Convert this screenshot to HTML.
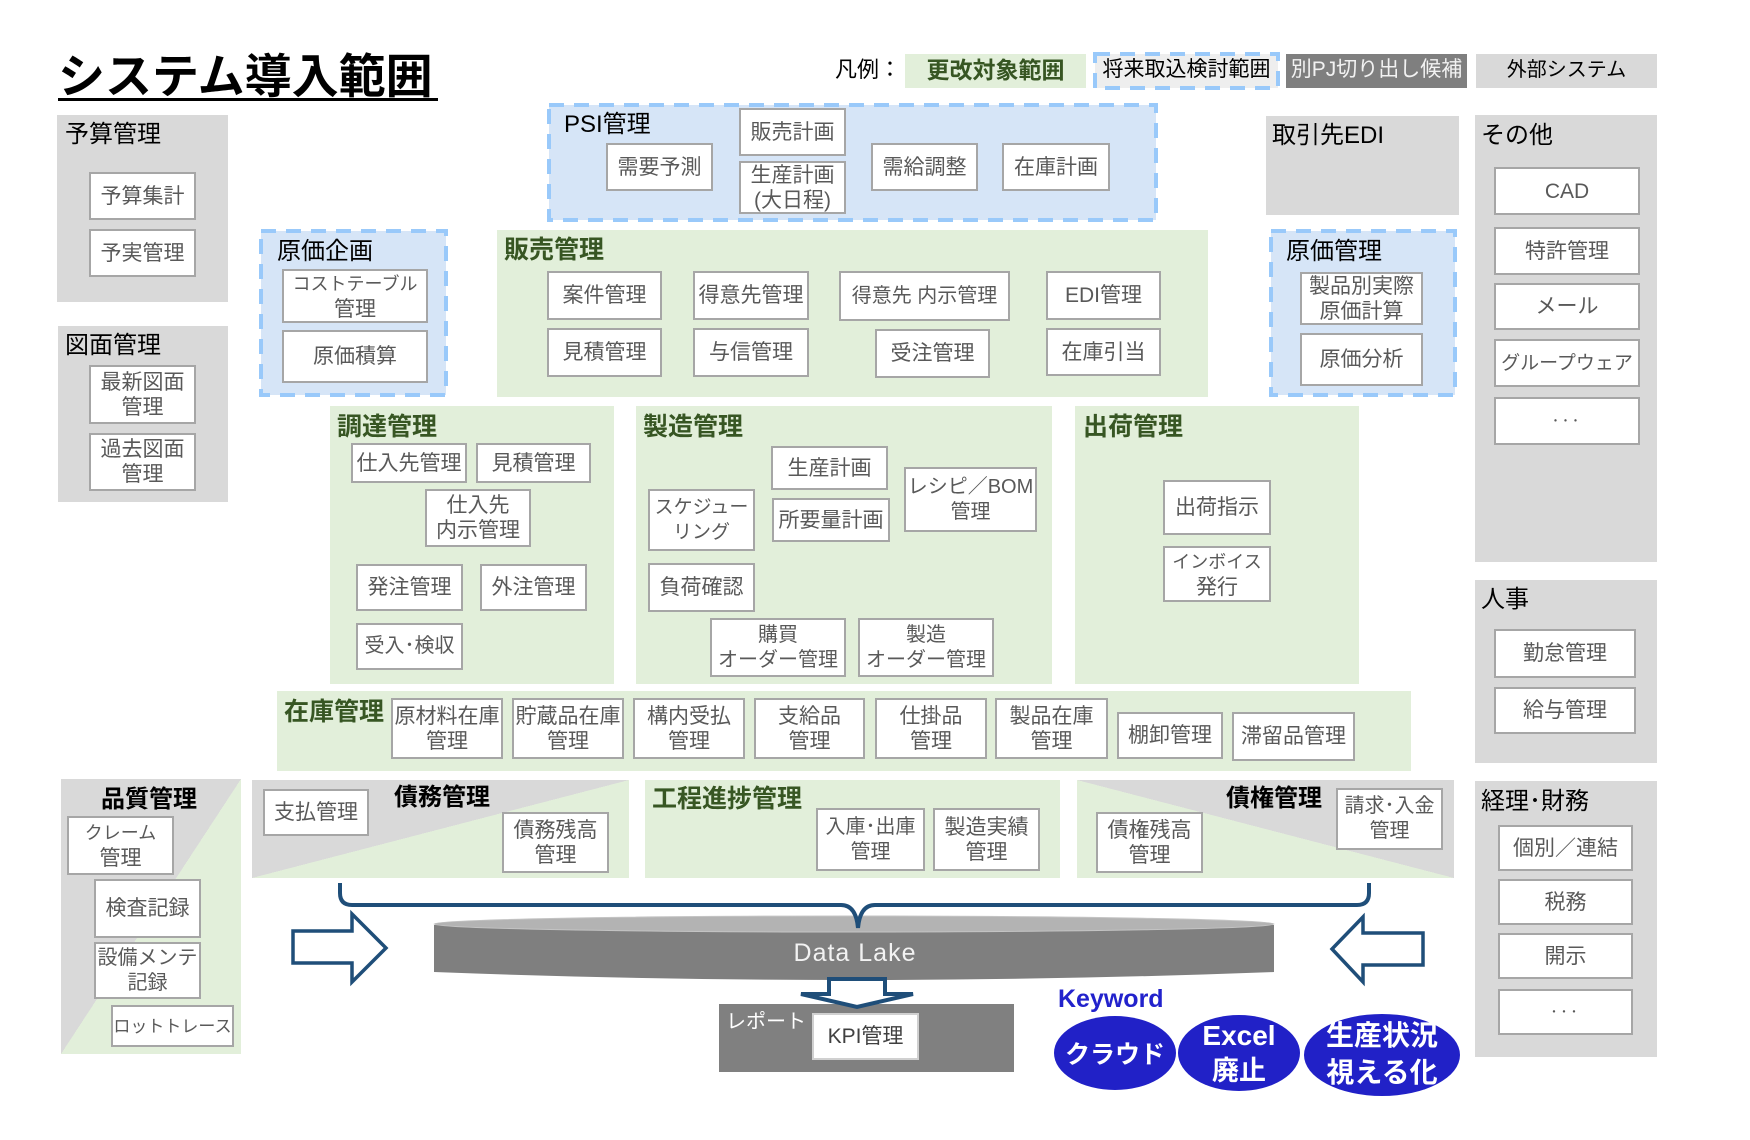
<!DOCTYPE html>
<html><head><meta charset="utf-8">
<style>
body{margin:0;width:1750px;height:1140px;position:relative;background:#fff;font-family:"Liberation Sans","Noto Sans CJK JP",sans-serif;overflow:hidden}
.a{position:absolute}
.g{position:absolute;background:#d9d9d9}
.gr{position:absolute;background:#e2efda}
.b{position:absolute;box-sizing:border-box;background:#fff;border:2px solid #a6a6a6;display:flex;align-items:center;justify-content:center;text-align:center;color:#595959;font-size:21px;line-height:25px;white-space:nowrap}
.t{position:absolute;font-size:24px;line-height:30px;color:#000;white-space:nowrap}
.tg{color:#375623;font-weight:bold;font-size:25px}
.bd{font-weight:bold}
svg{position:absolute;left:0;top:0}
</style></head><body>

<svg width="1750" height="1140">
  <g fill="#d6e5f7" stroke="#99c9fa" stroke-width="4" stroke-dasharray="15 10">
    <rect x="549" y="105" width="607" height="115"/>
    <rect x="261" y="231" width="185" height="164"/>
    <rect x="1271" y="231" width="184" height="164"/>
    <rect x="1095" y="54" width="183" height="34" fill="#eeeeee"/>
  </g>
</svg>

<!-- Title -->
<div class="t bd" style="left:58px;top:48px;font-size:47px;line-height:58px;letter-spacing:0px">システム導入範囲</div>
<div class="a" style="left:58px;top:98px;width:380px;height:3px;background:#000"></div>

<!-- Legend -->
<div class="t" style="left:835px;top:55px;font-size:22px">凡例：</div>
<div class="gr" style="left:905px;top:54px;width:181px;height:34px"></div>
<div class="t" style="left:905px;top:55px;width:181px;text-align:center;color:#375623;font-weight:bold;font-size:23px">更改対象範囲</div>
<div class="t" style="left:1095px;top:55px;width:183px;text-align:center;font-size:21px">将来取込検討範囲</div>
<div class="a" style="left:1286px;top:54px;width:181px;height:34px;background:#7f7f7f"></div>
<div class="t" style="left:1286px;top:55px;width:181px;text-align:center;font-size:21px;color:#f2f2f2">別PJ切り出し候補</div>
<div class="g" style="left:1476px;top:54px;width:181px;height:34px"></div>
<div class="t" style="left:1476px;top:55px;width:181px;text-align:center;font-size:20px">外部システム</div>

<!-- 予算管理 -->
<div class="g" style="left:57px;top:115px;width:171px;height:187px"></div>
<div class="t" style="left:65px;top:120px">予算管理</div>
<div class="b" style="left:89px;top:172px;width:107px;height:48px">予算集計</div>
<div class="b" style="left:89px;top:229px;width:107px;height:48px">予実管理</div>

<!-- 図面管理 -->
<div class="g" style="left:58px;top:326px;width:170px;height:176px"></div>
<div class="t" style="left:65px;top:331px">図面管理</div>
<div class="b" style="left:89px;top:365px;width:107px;height:59px">最新図面<br>管理</div>
<div class="b" style="left:89px;top:433px;width:107px;height:58px">過去図面<br>管理</div>

<!-- 原価企画 -->
<div class="t" style="left:277px;top:237px">原価企画</div>
<div class="b" style="left:282px;top:269px;width:146px;height:54px"><div><span style="font-size:18px">コストテーブル</span><br>管理</div></div>
<div class="b" style="left:282px;top:330px;width:146px;height:53px">原価積算</div>

<!-- PSI -->
<div class="t" style="left:564px;top:110px">PSI管理</div>
<div class="b" style="left:606px;top:143px;width:107px;height:48px">需要予測</div>
<div class="b" style="left:739px;top:108px;width:107px;height:48px">販売計画</div>
<div class="b" style="left:739px;top:161px;width:107px;height:53px">生産計画<br>(大日程)</div>
<div class="b" style="left:871px;top:143px;width:107px;height:48px">需給調整</div>
<div class="b" style="left:1002px;top:143px;width:108px;height:48px">在庫計画</div>

<!-- 販売管理 -->
<div class="gr" style="left:497px;top:230px;width:711px;height:167px"></div>
<div class="t tg" style="left:504px;top:235px">販売管理</div>
<div class="b" style="left:547px;top:271px;width:115px;height:49px">案件管理</div>
<div class="b" style="left:547px;top:328px;width:115px;height:49px">見積管理</div>
<div class="b" style="left:693px;top:271px;width:116px;height:49px">得意先管理</div>
<div class="b" style="left:693px;top:328px;width:116px;height:49px">与信管理</div>
<div class="b" style="left:839px;top:271px;width:171px;height:50px;font-size:20px">得意先 内示管理</div>
<div class="b" style="left:875px;top:329px;width:115px;height:49px">受注管理</div>
<div class="b" style="left:1046px;top:271px;width:115px;height:49px">EDI管理</div>
<div class="b" style="left:1046px;top:328px;width:115px;height:48px">在庫引当</div>

<!-- 取引先EDI -->
<div class="g" style="left:1266px;top:116px;width:193px;height:99px"></div>
<div class="t" style="left:1272px;top:121px">取引先EDI</div>

<!-- 原価管理 -->
<div class="t" style="left:1286px;top:237px">原価管理</div>
<div class="b" style="left:1300px;top:272px;width:123px;height:53px">製品別実際<br>原価計算</div>
<div class="b" style="left:1300px;top:333px;width:123px;height:53px">原価分析</div>

<!-- その他 -->
<div class="g" style="left:1475px;top:115px;width:182px;height:447px"></div>
<div class="t" style="left:1481px;top:121px">その他</div>
<div class="b" style="left:1494px;top:167px;width:146px;height:48px">CAD</div>
<div class="b" style="left:1494px;top:227px;width:146px;height:48px">特許管理</div>
<div class="b" style="left:1494px;top:283px;width:146px;height:47px">メール</div>
<div class="b" style="left:1494px;top:339px;width:146px;height:48px;font-size:19px">グループウェア</div>
<div class="b" style="left:1494px;top:397px;width:146px;height:48px;font-size:14px;letter-spacing:3px">･･･</div>

<!-- 人事 -->
<div class="g" style="left:1475px;top:580px;width:182px;height:183px"></div>
<div class="t" style="left:1481px;top:585px">人事</div>
<div class="b" style="left:1494px;top:629px;width:142px;height:49px">勤怠管理</div>
<div class="b" style="left:1494px;top:687px;width:142px;height:47px">給与管理</div>

<!-- 調達管理 -->
<div class="gr" style="left:330px;top:406px;width:284px;height:278px"></div>
<div class="t tg" style="left:337px;top:412px">調達管理</div>
<div class="b" style="left:351px;top:443px;width:116px;height:40px">仕入先管理</div>
<div class="b" style="left:476px;top:443px;width:115px;height:40px">見積管理</div>
<div class="b" style="left:425px;top:489px;width:106px;height:58px">仕入先<br>内示管理</div>
<div class="b" style="left:356px;top:564px;width:107px;height:47px">発注管理</div>
<div class="b" style="left:480px;top:564px;width:107px;height:47px">外注管理</div>
<div class="b" style="left:356px;top:623px;width:107px;height:47px;font-size:20px">受入･検収</div>

<!-- 製造管理 -->
<div class="gr" style="left:636px;top:406px;width:416px;height:278px"></div>
<div class="t tg" style="left:643px;top:412px">製造管理</div>
<div class="b" style="left:771px;top:446px;width:117px;height:44px">生産計画</div>
<div class="b" style="left:772px;top:498px;width:118px;height:44px">所要量計画</div>
<div class="b" style="left:904px;top:467px;width:133px;height:65px;font-size:20px">レシピ／BOM<br>管理</div>
<div class="b" style="left:648px;top:489px;width:107px;height:62px;font-size:19px">スケジュー<br>リング</div>
<div class="b" style="left:648px;top:563px;width:107px;height:49px">負荷確認</div>
<div class="b" style="left:710px;top:618px;width:136px;height:59px;font-size:20px">購買<br>オーダー管理</div>
<div class="b" style="left:858px;top:618px;width:136px;height:59px;font-size:20px">製造<br>オーダー管理</div>

<!-- 出荷管理 -->
<div class="gr" style="left:1075px;top:406px;width:284px;height:278px"></div>
<div class="t tg" style="left:1083px;top:412px">出荷管理</div>
<div class="b" style="left:1163px;top:480px;width:108px;height:55px">出荷指示</div>
<div class="b" style="left:1163px;top:546px;width:108px;height:56px"><div><span style="font-size:18px">インボイス</span><br>発行</div></div>

<!-- 在庫管理 -->
<div class="gr" style="left:277px;top:691px;width:1134px;height:80px"></div>
<div class="t tg" style="left:284px;top:697px">在庫管理</div>
<div class="b" style="left:391px;top:698px;width:112px;height:61px">原材料在庫<br>管理</div>
<div class="b" style="left:512px;top:698px;width:112px;height:61px">貯蔵品在庫<br>管理</div>
<div class="b" style="left:633px;top:698px;width:112px;height:61px">構内受払<br>管理</div>
<div class="b" style="left:754px;top:698px;width:111px;height:61px">支給品<br>管理</div>
<div class="b" style="left:875px;top:698px;width:112px;height:61px">仕掛品<br>管理</div>
<div class="b" style="left:995px;top:698px;width:113px;height:61px">製品在庫<br>管理</div>
<div class="b" style="left:1117px;top:712px;width:106px;height:47px">棚卸管理</div>
<div class="b" style="left:1232px;top:712px;width:123px;height:49px">滞留品管理</div>

<!-- 品質管理 -->
<div class="a" style="left:61px;top:779px;width:180px;height:275px;background:linear-gradient(to bottom right,#d9d9d9 50%,#e2efda 50%)"></div>
<div class="t bd" style="left:101px;top:785px">品質管理</div>
<div class="b" style="left:67px;top:816px;width:107px;height:59px"><div><span style="font-size:18px">クレーム</span><br>管理</div></div>
<div class="b" style="left:94px;top:879px;width:107px;height:59px">検査記録</div>
<div class="b" style="left:94px;top:942px;width:107px;height:57px;font-size:20px">設備メンテ<br>記録</div>
<div class="b" style="left:111px;top:1005px;width:123px;height:42px;font-size:17px">ロットトレース</div>

<!-- 債務管理 -->
<div class="a" style="left:252px;top:780px;width:377px;height:98px;background:linear-gradient(to bottom right,#d9d9d9 50%,#e2efda 50%)"></div>
<div class="t bd" style="left:394px;top:783px">債務管理</div>
<div class="b" style="left:263px;top:789px;width:106px;height:47px">支払管理</div>
<div class="b" style="left:502px;top:812px;width:107px;height:61px">債務残高<br>管理</div>

<!-- 工程進捗管理 -->
<div class="gr" style="left:645px;top:780px;width:415px;height:98px"></div>
<div class="t tg" style="left:652px;top:784px">工程進捗管理</div>
<div class="b" style="left:816px;top:808px;width:109px;height:63px;font-size:20px">入庫･出庫<br>管理</div>
<div class="b" style="left:933px;top:808px;width:107px;height:63px">製造実績<br>管理</div>

<!-- 債権管理 -->
<div class="a" style="left:1077px;top:780px;width:377px;height:98px;background:linear-gradient(to bottom left,#d9d9d9 50%,#e2efda 50%)"></div>
<div class="t bd" style="left:1226px;top:784px">債権管理</div>
<div class="b" style="left:1096px;top:812px;width:107px;height:61px">債権残高<br>管理</div>
<div class="b" style="left:1336px;top:788px;width:107px;height:62px;font-size:20px">請求･入金<br>管理</div>

<!-- 経理・財務 -->
<div class="g" style="left:1475px;top:781px;width:182px;height:276px"></div>
<div class="t" style="left:1481px;top:787px">経理･財務</div>
<div class="b" style="left:1498px;top:825px;width:135px;height:46px">個別／連結</div>
<div class="b" style="left:1498px;top:879px;width:135px;height:46px">税務</div>
<div class="b" style="left:1498px;top:933px;width:135px;height:46px">開示</div>
<div class="b" style="left:1498px;top:989px;width:135px;height:46px;font-size:14px;letter-spacing:3px">･･･</div>

<!-- Report -->
<div class="a" style="left:719px;top:1004px;width:295px;height:68px;background:#808080"></div>
<div class="t" style="left:726px;top:1007px;font-size:20px;color:#fff">レポート</div>
<div class="b" style="left:812px;top:1013px;width:107px;height:47px;border-color:#d0d0d0;color:#404040">KPI管理</div>

<!-- Front SVG: cylinder, bracket, arrows, keywords -->
<svg width="1750" height="1140">
  <path d="M434,925 L1274,925 L1274,972 Q854,988 434,972 Z" fill="#7f7f7f"/>
  <ellipse cx="854" cy="924" rx="420" ry="8" fill="#b3b3b3" stroke="#c4c4c4" stroke-width="1"/>
  <text x="855" y="961" text-anchor="middle" font-family="Liberation Sans, sans-serif" font-size="25" fill="#f2f2f2" letter-spacing="1">Data Lake</text>
  <path d="M340,883 L340,893 Q340,905 352,905 L841,905 Q856,905 858,928 Q860,905 875,905 L1357,905 Q1369,905 1369,893 L1369,883" fill="none" stroke="#1f4e79" stroke-width="4"/>
  <polygon points="293,931 352,931 352,914 386,948 352,982 352,963 293,963" fill="#fff" stroke="#1f4e79" stroke-width="3.5" stroke-linejoin="miter"/>
  <polygon points="1423,933 1363,933 1363,917 1332,949 1363,982 1363,965 1423,965" fill="#fff" stroke="#1f4e79" stroke-width="3.5"/>
  <polygon points="829,979 885,979 885,994 913,994 857,1007 801,994 829,994" fill="#fff" stroke="#1f4e79" stroke-width="4"/>
  <text x="1058" y="1007" font-family="Liberation Sans, sans-serif" font-weight="bold" font-size="25" fill="#2222cc">Keyword</text>
  <ellipse cx="1115" cy="1053" rx="61" ry="37" fill="#2121c7"/>
  <ellipse cx="1239" cy="1053" rx="61" ry="38" fill="#2121c7"/>
  <ellipse cx="1382" cy="1055" rx="78" ry="41" fill="#2121c7"/>
  <g font-family="Liberation Sans, Noto Sans CJK JP, sans-serif" font-weight="bold" fill="#fff" text-anchor="middle">
    <text x="1115" y="1063" font-size="25">クラウド</text>
    <text x="1239" y="1045" font-size="28">Excel</text>
    <text x="1239" y="1080" font-size="27">廃止</text>
    <text x="1382" y="1045" font-size="28">生産状況</text>
    <text x="1382" y="1082" font-size="28">視える化</text>
  </g>
</svg>

</body></html>
